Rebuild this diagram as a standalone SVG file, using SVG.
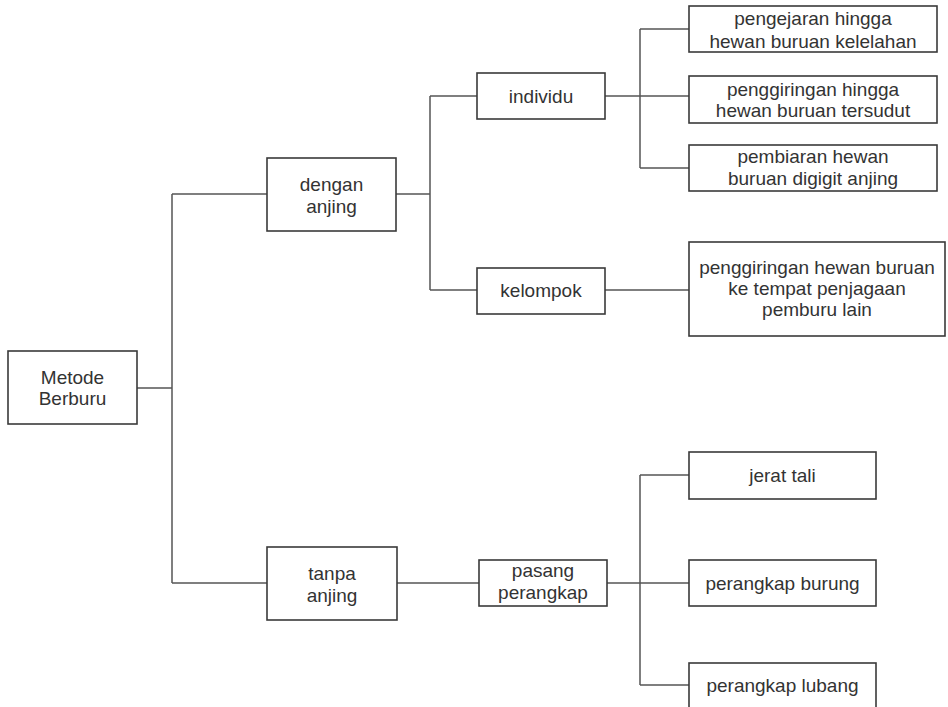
<svg xmlns="http://www.w3.org/2000/svg" width="948" height="707" viewBox="0 0 948 707">
<style>
.box{fill:#fff;stroke:#3a3a3a;stroke-width:1.6}
.c{fill:none;stroke:#555;stroke-width:1.5}
text{font-family:"Liberation Sans",Arial,sans-serif;font-size:19px;fill:#333;text-anchor:middle}
</style>
<rect width="948" height="707" fill="#fff"/>
<g id="connectors">
<path class="c" d="M137 388H172M172 194V583M172 194H267M172 583H267"/>
<path class="c" d="M396 194H430M430 96V290M430 96H477M430 290H477"/>
<path class="c" d="M605 96H689M640 29V168M640 29H689M640 168H689"/>
<path class="c" d="M605 290H689"/>
<path class="c" d="M397 583H479M607 583H689M640 475V685M640 475H689M640 685H689"/>
</g>
<g id="metode"><rect class="box" x="8" y="351" width="129" height="73"/><text x="72.5" y="384">Metode</text><text x="72.5" y="405">Berburu</text></g>
<g id="dengan"><rect class="box" x="267" y="158" width="129" height="73"/><text x="331.5" y="191">dengan</text><text x="331.5" y="213">anjing</text></g>
<g id="tanpa"><rect class="box" x="267" y="547" width="130" height="73"/><text x="332" y="580">tanpa</text><text x="332" y="602">anjing</text></g>
<g id="individu"><rect class="box" x="477" y="73" width="128" height="46"/><text x="541" y="103">individu</text></g>
<g id="kelompok"><rect class="box" x="477" y="268" width="128" height="46"/><text x="541" y="297">kelompok</text></g>
<g id="pasang"><rect class="box" x="479" y="560" width="128" height="46"/><text x="543" y="577">pasang</text><text x="543" y="599">perangkap</text></g>
<g id="pengejaran"><rect class="box" x="689" y="6" width="248" height="46"/><text x="813" y="25">pengejaran hingga</text><text x="813" y="48">hewan buruan kelelahan</text></g>
<g id="penggiringan1"><rect class="box" x="689" y="76" width="248" height="47"/><text x="813" y="96">penggiringan hingga</text><text x="813" y="117">hewan buruan tersudut</text></g>
<g id="pembiaran"><rect class="box" x="689" y="145" width="248" height="46"/><text x="813" y="163">pembiaran hewan</text><text x="813" y="185">buruan digigit anjing</text></g>
<g id="penggiringan2"><rect class="box" x="689" y="242" width="256" height="94"/><text x="817" y="274">penggiringan hewan buruan</text><text x="817" y="295">ke tempat penjagaan</text><text x="817" y="316">pemburu lain</text></g>
<g id="jerat"><rect class="box" x="689" y="452" width="187" height="47"/><text x="782.5" y="482">jerat tali</text></g>
<g id="burung"><rect class="box" x="689" y="560" width="187" height="46"/><text x="782.5" y="590">perangkap burung</text></g>
<g id="lubang"><rect class="box" x="689" y="663" width="187" height="46"/><text x="782.5" y="692">perangkap lubang</text></g>
</svg>
